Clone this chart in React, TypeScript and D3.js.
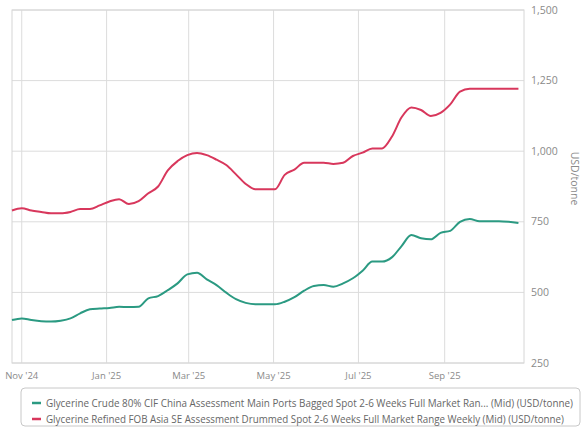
import React from "react";
import * as d3 from "d3";

// weekly assessments, Fridays from 25 Oct 2024
const startDate = new Date(2024, 9, 25);
const endDate = new Date(2025, 9, 28);
const crudeValues = [
  402, 408, 402, 398, 397, 400, 408, 426, 440, 443, 445, 449, 448, 449, 479, 487,
  508, 532, 564, 570, 546, 526, 499, 476, 463, 458, 458, 458, 467, 483, 506, 523,
  526, 520, 532, 550, 577, 609, 609, 624, 664, 703, 692, 688, 711, 718, 750, 760,
  752, 752, 752, 750, 746,
];
const refinedValues = [
  790, 798, 790, 785, 780, 780, 785, 795, 795, 808, 822, 830, 813, 823, 851, 875,
  932, 965, 986, 994, 986, 970, 951, 918, 884, 865, 865, 865, 916, 935, 959, 959,
  959, 955, 959, 983, 995, 1010, 1010, 1051, 1120, 1155, 1146, 1125, 1136, 1166,
  1211, 1221, 1221, 1221, 1221, 1221, 1221,
];
const yTicks = [250, 500, 750, 1000, 1250, 1500];
const xTickDates = [
  new Date(2024, 10, 1),
  new Date(2025, 0, 1),
  new Date(2025, 2, 1),
  new Date(2025, 4, 1),
  new Date(2025, 6, 1),
  new Date(2025, 8, 1),
];
const xTickLabels = ["Nov '24", "Jan '25", "Mar '25", "May '25", "Jul '25", "Sep '25"];
const seriesNames = [
  "Glycerine Crude 80% CIF China Assessment Main Ports Bagged Spot 2-6 Weeks Full Market Ran... (Mid) (USD/tonne)",
  "Glycerine Refined FOB Asia SE Assessment Drummed Spot 2-6 Weeks Full Market Range Weekly (Mid) (USD/tonne)",
];
const legendWidths = [527, 518];
const seriesColors = ["#2b9a82", "#d8375c"];

const W = 583;
const H = 431;
const left = 12;
const right = 524;
const top = 10;
const bottom = 363;

export default function App() {
  const dates = crudeValues.map((_, i) => d3.timeDay.offset(startDate, i * 7));
  const x = d3.scaleTime().domain([startDate, endDate]).range([left, right]);
  const y = d3.scaleLinear().domain([250, 1500]).range([bottom, top]);

  const line = d3
    .line<number>()
    .x((_, i) => x(dates[i]))
    .y((d) => y(d))
    .curve(d3.curveMonotoneX);

  const font = "'Open Sans', 'DejaVu Sans', sans-serif";

  return (
    <svg
      width={W}
      height={H}
      style={{ position: "absolute", left: 0, top: 0, fontFamily: font }}
    >
      <rect x={0} y={0} width={W} height={H} fill="#fff" />
      {/* grid */}
      {yTicks.map((t) => (
        <line key={t} x1={left} x2={right} y1={y(t)} y2={y(t)} stroke="#dcdcdc" strokeWidth={1} />
      ))}
      {xTickDates.map((d, i) => (
        <line key={i} x1={x(d)} x2={x(d)} y1={top} y2={bottom} stroke="#dcdcdc" strokeWidth={1} />
      ))}
      <rect
        x={left}
        y={top}
        width={right - left}
        height={bottom - top}
        fill="none"
        stroke="#d6d6d6"
        strokeWidth={1}
      />
      {/* series */}
      {[crudeValues, refinedValues].map((vals, k) => (
        <path
          key={k}
          d={line(vals) || ""}
          fill="none"
          stroke={seriesColors[k]}
          strokeWidth={2}
          strokeLinejoin="round"
        />
      ))}
      {/* y axis labels */}
      {yTicks.map((t) => (
        <text key={t} x={531} y={y(t)} dy="0.35em" fontSize={10.5} fill="#8a8a8a">
          {d3.format(",")(t)}
        </text>
      ))}
      <text
        transform={`translate(571,${(top + bottom) / 2 - 8}) rotate(90)`}
        textAnchor="middle"
        fontSize={10.5}
        fill="#8a8a8a"
      >
        USD/tonne
      </text>
      {/* x axis labels */}
      {xTickDates.map((d, i) => (
        <text key={i} x={x(d)} y={379} textAnchor="middle" fontSize={9.5} fill="#8a8a8a">
          {xTickLabels[i]}
        </text>
      ))}
      {/* legend */}
      <rect x={21} y={388} width={559} height={38} rx={4} fill="#fff" stroke="#c8c8c8" />
      {seriesNames.map((name, i) => (
        <g key={i} transform={`translate(0,${403 + i * 16})`}>
          <line x1={32} x2={41} y1={0} y2={0} stroke={seriesColors[i]} strokeWidth={2.5} />
          <text
            x={46}
            y={0}
            dy="0.35em"
            fontSize={10}
            fill="#666"
            textLength={legendWidths[i]}
            lengthAdjust="spacingAndGlyphs"
          >
            {name}
          </text>
        </g>
      ))}
    </svg>
  );
}
